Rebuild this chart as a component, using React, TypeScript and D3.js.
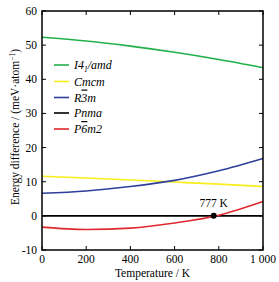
import React from "react";
import * as d3 from "d3";

const temps = [0, 200, 400, 600, 800, 1000];
const i41amd = [52.3, 51.2, 49.7, 47.9, 45.8, 43.4];
const cmcm = [11.6, 11.1, 10.5, 9.9, 9.3, 8.6];
const r3m = [6.6, 7.3, 8.6, 10.4, 13.2, 16.8];
const pnma = [0, 0, 0, 0, 0, 0];
const p6m2 = [-3.3, -4.0, -3.6, -2.1, 0.2, 4.2];
const xTicks = [0, 200, 400, 600, 800, 1000];
const xTickLabels = ["0", "200", "400", "600", "800", "1 000"];
const yTicks = [-10, 0, 10, 20, 30, 40, 50, 60];
const crossT = 777;

const W = 279, H = 282;
const L = 42, R = 263, T = 11, B = 250;

export default function App() {
  const x = d3.scaleLinear().domain([0, 1000]).range([L, R]);
  const y = d3.scaleLinear().domain([-10, 60]).range([B, T]);
  const line = d3.line<number>().x((_, i) => x(temps[i])).y((d) => y(d)).curve(d3.curveMonotoneX);
  const series = [
    { vals: i41amd, color: "#22b04b" },
    { vals: cmcm, color: "#f7ee1a" },
    { vals: r3m, color: "#2f3f9c" },
    { vals: pnma, color: "#000000" },
    { vals: p6m2, color: "#e0292e" },
  ];
  const font = "Liberation Serif, Times New Roman, serif";
  const fs = 11.5;
  const legendY = [65, 81.5, 97.5, 113, 129];
  const lx1 = 54, lx2 = 69, tx = 74;
  return (
    <svg width={W} height={H} style={{ position: "absolute", left: 0, top: 0, background: "#fff", fontFamily: font }}>
      <rect x={0} y={0} width={W} height={H} fill="#fff" />
      {series.map((s, i) => (
        <path key={i} d={line(s.vals) || ""} fill="none" stroke={s.color} strokeWidth={1.6} />
      ))}
      <circle cx={x(crossT)} cy={y(0)} r={3} fill="#000" />
      <text x={x(crossT)} y={y(0) - 9} fontSize={fs} textAnchor="middle" fill="#000">777 K</text>
      <rect x={L} y={T} width={R - L} height={B - T} fill="none" stroke="#000" strokeWidth={1.5} />
      {xTicks.map((t, i) => (
        <g key={"x" + i}>
          <line x1={x(t)} x2={x(t)} y1={B} y2={B - 4} stroke="#000" />
          <line x1={x(t)} x2={x(t)} y1={T} y2={T + 4} stroke="#000" />
          <text x={x(t)} y={B + 13} fontSize={fs} textAnchor="middle" fill="#000">{xTickLabels[i]}</text>
        </g>
      ))}
      {yTicks.map((t, i) => (
        <g key={"y" + i}>
          <line x1={L} x2={L + 4} y1={y(t)} y2={y(t)} stroke="#000" />
          <line x1={R} x2={R - 4} y1={y(t)} y2={y(t)} stroke="#000" />
          <text x={L - 5} y={y(t) + 4} fontSize={fs} textAnchor="end" fill="#000">{t}</text>
        </g>
      ))}
      <text x={(L + R) / 2} y={277} fontSize={fs} textAnchor="middle" fill="#000">Temperature / K</text>
      <text transform={`translate(19,127) rotate(-90)`} fontSize={fs} textAnchor="middle" fill="#000">
        Energy difference / (meV·atom<tspan dy={-4} fontSize={7.5}>−1</tspan><tspan dy={4}>)</tspan>
      </text>
      {series.map((s, i) => (
        <line key={"l" + i} x1={lx1} x2={lx2} y1={legendY[i]} y2={legendY[i]} stroke={s.color} strokeWidth={1.6} />
      ))}
      <text x={tx} y={legendY[0] + 4} fontSize={12} fontStyle="italic">I4<tspan dy={3} fontSize={7.5}>1</tspan><tspan dy={-3}>/amd</tspan></text>
      <text x={tx} y={legendY[1] + 4} fontSize={12} fontStyle="italic">Cmcm</text>
      <text x={tx} y={legendY[2] + 4} fontSize={12} fontStyle="italic">R<tspan style={{ textDecoration: "overline" }}>3</tspan>m</text>
      <text x={tx} y={legendY[3] + 4} fontSize={12} fontStyle="italic">Pnma</text>
      <text x={tx} y={legendY[4] + 4} fontSize={12} fontStyle="italic">P<tspan style={{ textDecoration: "overline" }}>6</tspan>m2</text>
    </svg>
  );
}
